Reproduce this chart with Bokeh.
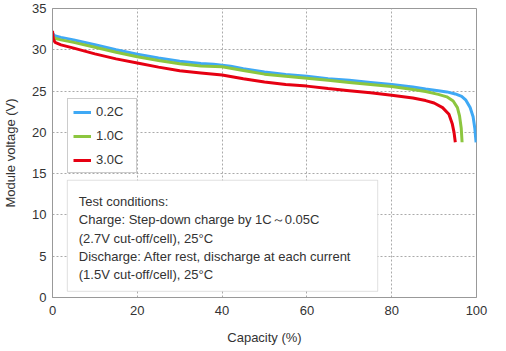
from bokeh.plotting import figure
from bokeh.models import Legend, LegendItem, Label, BoxAnnotation, FixedTicker, Range1d
from bokeh.embed import file_html
from bokeh.resources import INLINE

# ---- data ----
capacity_02 = [0, 0.5, 2, 5, 10, 15, 20, 25, 30, 35, 38, 42, 45, 50, 55, 60, 65, 70, 75, 80,
               85, 88, 91, 93, 95, 96.5, 97.5, 98.5, 99.2, 99.6, 99.9]
voltage_02 = [32.0, 31.7, 31.5, 31.2, 30.6, 30.0, 29.45, 29.0, 28.6, 28.35, 28.25, 28.0, 27.7, 27.3,
              27.0, 26.8, 26.5, 26.3, 26.05, 25.8, 25.5, 25.25, 25.05, 24.9, 24.65, 24.35, 23.9,
              23.0, 21.9, 20.5, 18.8]

capacity_10 = [0, 0.5, 2, 5, 10, 15, 20, 25, 30, 35, 40, 45, 50, 55, 60, 65, 70, 75, 80, 85,
               88, 91, 93, 94.5, 95.5, 96.0, 96.4, 96.6]
voltage_10 = [31.6, 31.4, 31.2, 30.9, 30.3, 29.7, 29.15, 28.7, 28.3, 28.05, 27.95, 27.5, 27.05,
              26.8, 26.55, 26.3, 26.05, 25.8, 25.55, 25.2, 24.95, 24.6, 24.3, 23.8, 23.0, 22.0,
              20.5, 18.8]

capacity_30 = [0, 0.2, 0.6, 2, 5, 10, 15, 20, 25, 30, 35, 40, 45, 50, 55, 60, 65, 70, 75, 80,
               85, 88, 90, 92, 93.5, 94.3, 94.7, 95.0]
voltage_30 = [32.3, 31.3, 30.9, 30.6, 30.2, 29.5, 28.9, 28.4, 27.9, 27.45, 27.2, 26.95, 26.5,
              26.1, 25.8, 25.6, 25.3, 25.05, 24.8, 24.5, 24.15, 23.85, 23.55, 23.0, 22.2, 21.0,
              20.0, 18.8]

series_labels = ["0.2C", "1.0C", "3.0C"]
series_colors = ["#3fa9f5", "#8cc63f", "#e60012"]
x_ticks = [0, 20, 40, 60, 80, 100]
y_ticks = [0, 5, 10, 15, 20, 25, 30, 35]
note_lines = [
    "Test conditions:",
    "Charge: Step-down charge by 1C\uff5e0.05C",
    "(2.7V cut-off/cell), 25\u00b0C",
    "Discharge: After rest, discharge at each current",
    "(1.5V cut-off/cell), 25\u00b0C",
]

FONT = "Liberation Sans"
TXT = "#333333"
GRID = "#aaaaaa"
FRAME = "#999999"

p = figure(width=506, height=351, x_range=Range1d(0, 100), y_range=Range1d(0, 35),
           output_backend="svg", toolbar_location=None,
           min_border_left=52, min_border_right=30, min_border_top=8, min_border_bottom=54)

p.outline_line_color = FRAME
p.outline_line_width = 1
p.background_fill_color = "white"
p.border_fill_color = "white"

for ax in (p.xaxis[0], p.yaxis[0]):
    ax.axis_line_color = FRAME
    ax.major_tick_line_color = None
    ax.minor_tick_line_color = None
    ax.major_tick_out = 0
    ax.major_tick_in = 0
    ax.minor_tick_out = 0
    ax.major_label_text_font = FONT
    ax.major_label_text_font_size = "13px"
    ax.major_label_text_color = TXT
    ax.axis_label_text_font = FONT
    ax.axis_label_text_font_size = "13px"
    ax.axis_label_text_font_style = "normal"
    ax.axis_label_text_color = TXT

p.xaxis.ticker = FixedTicker(ticks=x_ticks)
p.yaxis.ticker = FixedTicker(ticks=y_ticks)
p.xaxis.axis_label = "Capacity (%)"
p.yaxis.axis_label = "Module voltage (V)"
p.xaxis.major_label_standoff = 8
p.yaxis.major_label_standoff = 6
p.xaxis.axis_label_standoff = 12
p.yaxis.axis_label_standoff = 11

p.xgrid.grid_line_color = GRID
p.ygrid.grid_line_color = GRID
p.xgrid.grid_line_dash = "2 2"
p.ygrid.grid_line_dash = "2 2"

renderers = []
for xs, ys, c in [(capacity_02, voltage_02, series_colors[0]),
                  (capacity_10, voltage_10, series_colors[1]),
                  (capacity_30, voltage_30, series_colors[2])]:
    r = p.line(xs, ys, line_color=c, line_width=3)
    renderers.append(r)

legend = Legend(items=[LegendItem(label=lab, renderers=[r]) for lab, r in zip(series_labels, renderers)],
                location=(15, 124), orientation="vertical",
                label_text_font=FONT, label_text_font_size="13px", label_text_color=TXT,
                glyph_width=18, glyph_height=14, label_height=14, label_standoff=5,
                label_width=35, spacing=9, padding=5, margin=0,
                border_line_color=FRAME, border_line_width=1, background_fill_alpha=1)
p.add_layout(legend, "center")

# note box
p.add_layout(BoxAnnotation(left=3.5, right=76.7, bottom=0.75, top=14.2,
                           fill_color="white", fill_alpha=1, line_color=FRAME, line_width=1))
p.add_layout(Label(x=6.2, y=12.5, text="\n".join(note_lines), text_font=FONT,
                   text_font_size="13px", text_color=TXT, text_baseline="top",
                   text_line_height=1.21))

open("out.html", "w").write(file_html(p, INLINE))
